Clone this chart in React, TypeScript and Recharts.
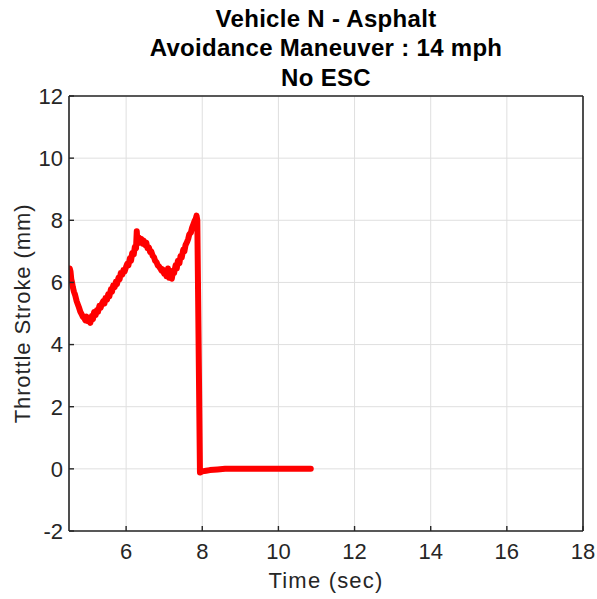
import React from "react";
import { LineChart, Line, XAxis, YAxis, CartesianGrid, Label } from "recharts";

const titleLines = ["Vehicle N - Asphalt", "Avoidance Maneuver : 14 mph", "No ESC"];
const xLabel = "Time (sec)";
const yLabel = "Throttle Stroke (mm)";
const xTicks = [6, 8, 10, 12, 14, 16, 18];
const yTicks = [-2, 0, 2, 4, 6, 8, 10, 12];
const xDomain = [4.5, 18];
const yDomain = [-2, 12];

const timeSec = [
  4.5, 4.52, 4.54, 4.56, 4.58, 4.6, 4.63, 4.66, 4.7, 4.73, 4.76, 4.8, 4.83, 4.86, 4.9, 4.93,
  4.96, 5.0, 5.03, 5.06, 5.1, 5.13, 5.16, 5.2, 5.23, 5.26, 5.3, 5.33, 5.36, 5.4, 5.43, 5.46,
  5.5, 5.53, 5.56, 5.6, 5.63, 5.66, 5.7, 5.73, 5.76, 5.8, 5.83, 5.86, 5.9, 5.93, 5.96, 6.0,
  6.03, 6.06, 6.1, 6.13, 6.16, 6.2, 6.23, 6.26, 6.28, 6.3, 6.33, 6.36, 6.4, 6.43, 6.46, 6.5,
  6.53, 6.56, 6.6, 6.63, 6.66, 6.7, 6.73, 6.76, 6.8, 6.83, 6.86, 6.9, 6.93, 6.96, 7.0, 7.03,
  7.06, 7.1, 7.13, 7.16, 7.2, 7.23, 7.26, 7.3, 7.33, 7.36, 7.4, 7.43, 7.46, 7.5, 7.53, 7.56,
  7.6, 7.63, 7.66, 7.7, 7.73, 7.76, 7.8, 7.83, 7.85, 7.87, 7.94, 8.0, 8.1, 8.2, 8.4, 8.6,
  9.0, 10.0, 10.85,
];
const throttleMm = [
  6.3, 6.45, 6.35, 6.1, 6.0, 5.85, 5.7, 5.6, 5.4, 5.3, 5.2, 5.05, 4.98, 4.9, 4.85, 4.78,
  4.9, 4.75, 4.85, 4.7, 4.92, 4.82, 5.05, 4.95, 5.1, 5.05, 5.25, 5.18, 5.3, 5.4, 5.32, 5.5,
  5.45, 5.62, 5.55, 5.78, 5.7, 5.9, 5.85, 6.02, 5.95, 6.15, 6.1, 6.3, 6.25, 6.4, 6.35, 6.5,
  6.6, 6.55, 6.78, 6.7, 6.95, 6.9, 7.15, 7.1, 7.65, 7.25, 7.45, 7.3, 7.4, 7.25, 7.35, 7.2,
  7.28, 7.1, 7.12, 6.98, 7.0, 6.85, 6.82, 6.7, 6.65, 6.55, 6.52, 6.45, 6.38, 6.42, 6.28, 6.35,
  6.2, 6.45, 6.15, 6.38, 6.12, 6.35, 6.3, 6.55, 6.45, 6.7, 6.62, 6.85, 6.8, 7.05, 7.0, 7.2,
  7.3, 7.4, 7.55, 7.6, 7.75, 7.85, 7.98, 8.05, 8.15, 8.0, -0.12, -0.08, -0.06, -0.04, -0.02, 0,
  0, 0, 0,
];

const data = timeSec.map((t, i) => ({ t, throttle: throttleMm[i] }));

const FONT = "'Liberation Sans', Arial, Helvetica, sans-serif";
const AXIS = "#262626";

export default function App() {
  return (
    <div style={{ position: "absolute", left: 0, top: 0, width: 597, height: 599, background: "#fff", fontFamily: FONT }}>
      {titleLines.map((s, i) => (
        <div
          key={i}
          style={{
            position: "absolute",
            left: 69,
            width: 514,
            top: [3.8, 33.3, 62.8][i],
            height: 30,
            lineHeight: "30px",
            fontSize: 24,
            fontWeight: "bold",
            letterSpacing: 0.3,
            textAlign: "center",
            color: "#000",
            whiteSpace: "nowrap",
          }}
        >
          {s}
        </div>
      ))}
      <LineChart
        width={597}
        height={599}
        data={data}
        margin={{ top: 95, right: 13, bottom: 0, left: 0 }}
        style={{ position: "absolute", left: 0, top: 0 }}
      >
        <CartesianGrid stroke="#dfdfdf" strokeWidth={1} />
        <XAxis
          dataKey="t"
          type="number"
          domain={xDomain}
          ticks={xTicks}
          interval={0}
          allowDataOverflow
          height={68}
          tickSize={-5}
          tickMargin={17}
          tick={{ fontSize: 22, fill: AXIS, fontFamily: FONT }}
          axisLine={{ stroke: AXIS, strokeWidth: 1.6 }}
          tickLine={{ stroke: AXIS, strokeWidth: 1.4 }}
        >
          <Label value={xLabel} position="center" dy={15} style={{ fontSize: 22, fill: AXIS, fontFamily: FONT, letterSpacing: 1.2 }} />
        </XAxis>
        <XAxis
          xAxisId="top"
          orientation="top"
          dataKey="t"
          type="number"
          domain={xDomain}
          ticks={xTicks}
          interval={0}
          allowDataOverflow
          height={1}
          tickSize={-5}
          tick={false}
          axisLine={{ stroke: AXIS, strokeWidth: 1.6 }}
          tickLine={{ stroke: AXIS, strokeWidth: 1.4 }}
        />
        <YAxis
          type="number"
          domain={yDomain}
          ticks={yTicks}
          interval={0}
          allowDataOverflow
          width={69}
          tickSize={-5}
          tickMargin={11}
          tick={{ fontSize: 22, fill: AXIS, fontFamily: FONT }}
          axisLine={{ stroke: AXIS, strokeWidth: 1.6 }}
          tickLine={{ stroke: AXIS, strokeWidth: 1.4 }}
        >
          <Label value={yLabel} position="center" angle={-90} dx={-12.5} style={{ fontSize: 22, fill: AXIS, fontFamily: FONT, letterSpacing: 0.9, textAnchor: "middle" }} />
        </YAxis>
        <YAxis
          yAxisId="right"
          orientation="right"
          type="number"
          domain={yDomain}
          ticks={yTicks}
          interval={0}
          allowDataOverflow
          width={1}
          tickSize={-5}
          tick={false}
          axisLine={{ stroke: AXIS, strokeWidth: 1.6 }}
          tickLine={{ stroke: AXIS, strokeWidth: 1.4 }}
        />
        <Line
          type="linear"
          dataKey="throttle"
          stroke="#ff0000"
          strokeWidth={6}
          strokeLinejoin="round"
          strokeLinecap="round"
          dot={false}
          activeDot={false}
          isAnimationActive={false}
        />
      </LineChart>
    </div>
  );
}
